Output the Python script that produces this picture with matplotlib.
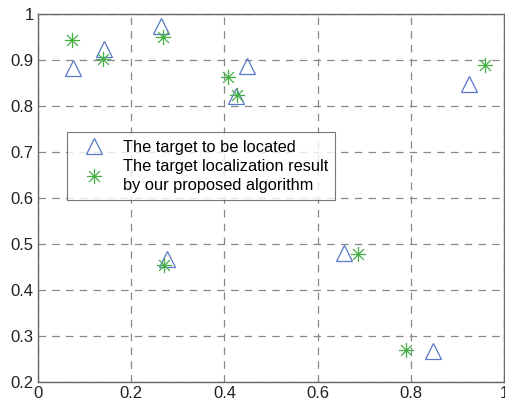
import matplotlib
matplotlib.use('Agg')
import matplotlib.pyplot as plt
from matplotlib.path import Path
import numpy as np

plt.rcParams['font.family'] = ['Liberation Sans', 'DejaVu Sans']

# true target positions (triangles)
target_x = [0.075, 0.142, 0.263, 0.425, 0.448, 0.925, 0.277, 0.657, 0.848]
target_y = [0.883, 0.925, 0.973, 0.822, 0.887, 0.848, 0.467, 0.480, 0.267]

# localization results (asterisks)
est_x = [0.073, 0.140, 0.268, 0.407, 0.428, 0.959, 0.271, 0.687, 0.790]
est_y = [0.943, 0.902, 0.950, 0.864, 0.824, 0.889, 0.454, 0.478, 0.270]

labels = ['The target to be located',
          'The target localization result\nby our proposed algorithm']

# matlab style asterisk: + and x combined
d = np.sqrt(0.5)
verts = [(-1, 0), (1, 0), (0, -1), (0, 1), (-d, -d), (d, d), (-d, d), (d, -d)]
codes = [Path.MOVETO, Path.LINETO] * 4
star = Path(verts, codes)

fig = plt.figure(figsize=(5.06, 4.03), dpi=100)
ax = fig.add_axes([38 / 506, 1 - 382 / 403, 466 / 506, 368 / 403])

ax.plot(target_x, target_y, linestyle='none', marker='^', markersize=12,
        markerfacecolor='none', markeredgecolor='#5a78c8', markeredgewidth=0.9,
        label=labels[0])
ax.plot(est_x, est_y, linestyle='none', marker=star, markersize=11,
        color='#44b044', markeredgewidth=0.9, label=labels[1])

ax.set_xlim(0, 1)
ax.set_ylim(0.2, 1)
ax.set_xticks([0, 0.2, 0.4, 0.6, 0.8, 1])
ax.set_xticklabels(['0', '0.2', '0.4', '0.6', '0.8', '1'])
ax.set_yticks([0.2, 0.3, 0.4, 0.5, 0.6, 0.7, 0.8, 0.9, 1])
ax.set_yticklabels(['0.2', '0.3', '0.4', '0.5', '0.6', '0.7', '0.8', '0.9', '1'])
ax.tick_params(labelsize=12, direction='in', length=0, pad=3, colors='#222222')
ax.grid(True, linestyle=(0, (6, 5)), color='#888888', linewidth=0.9)
for s in ax.spines.values():
    s.set_color('#666666')
    s.set_linewidth(1.0)

leg = ax.legend(loc='upper left', bbox_to_anchor=(0.062, 0.679), fontsize=11.8,
                frameon=True, fancybox=False, edgecolor='#555555',
                handlelength=2.4, handletextpad=0.55, borderpad=0.45,
                labelspacing=0.3, borderaxespad=0)
leg.get_frame().set_linewidth(0.8)
for t in leg.get_texts():
    t.set_multialignment('left')
    t.set_linespacing(1.3)

fig.savefig('out.png', dpi=100)
